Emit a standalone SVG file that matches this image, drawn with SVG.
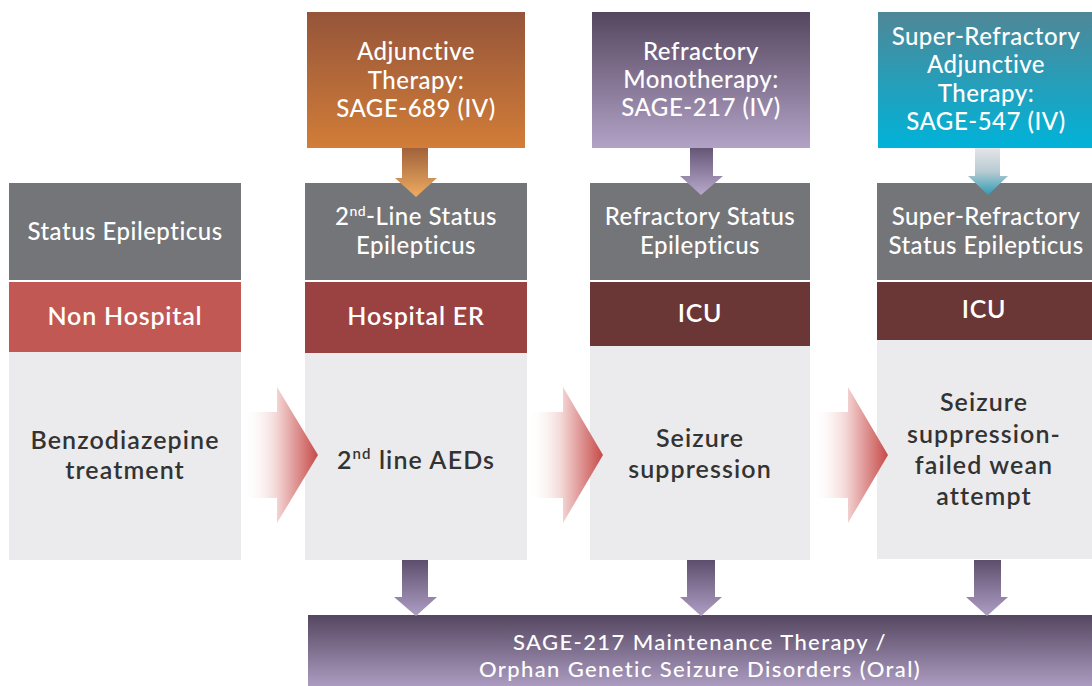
<svg xmlns="http://www.w3.org/2000/svg" width="1092" height="686" viewBox="0 0 1092 686">
<defs>
<linearGradient id="gOrange" x1="0" y1="0" x2="0" y2="1"><stop offset="0" stop-color="#95553a"/><stop offset="1" stop-color="#d27d38"/></linearGradient>
<linearGradient id="gPurple" x1="0" y1="0" x2="0" y2="1"><stop offset="0" stop-color="#55465f"/><stop offset="1" stop-color="#b2a2c6"/></linearGradient>
<linearGradient id="gTeal" x1="0" y1="0" x2="0" y2="1"><stop offset="0" stop-color="#4f8797"/><stop offset="1" stop-color="#00b3d9"/></linearGradient>
<linearGradient id="gBar" x1="0" y1="0" x2="0" y2="1"><stop offset="0" stop-color="#554660"/><stop offset="1" stop-color="#ab9bc0"/></linearGradient>
<linearGradient id="aOrange" x1="0" y1="0" x2="0" y2="1"><stop offset="0" stop-color="#a0623a"/><stop offset="1" stop-color="#eeab62"/></linearGradient>
<linearGradient id="aPurple" x1="0" y1="0" x2="0" y2="1"><stop offset="0" stop-color="#665676"/><stop offset="1" stop-color="#b8a8cc"/></linearGradient>
<linearGradient id="aTeal" x1="0" y1="0" x2="0" y2="1"><stop offset="0" stop-color="#e4e6e8"/><stop offset="0.5" stop-color="#b8cbd2"/><stop offset="1" stop-color="#2f9cb6"/></linearGradient>
<linearGradient id="aBottom" x1="0" y1="0" x2="0" y2="1"><stop offset="0" stop-color="#5e4e6d"/><stop offset="1" stop-color="#ae9ec4"/></linearGradient>
<linearGradient id="aRed" x1="0" y1="0" x2="1" y2="0"><stop offset="0" stop-color="#ffffff" stop-opacity="0"/><stop offset="0.45" stop-color="#f3d6d5"/><stop offset="1" stop-color="#c64a48"/></linearGradient>
<style>
.hdr{fill:#747578}
.body{fill:#ebebed}
.w{font-family:Lato,"Open Sans","Liberation Sans",sans-serif;font-size:24px;font-weight:500;letter-spacing:0.5px;fill:#ffffff;text-anchor:middle}
.wb{font-family:Lato,"Open Sans","Liberation Sans",sans-serif;font-size:25px;font-weight:600;letter-spacing:0.8px;fill:#ffffff;text-anchor:middle}
.d{font-family:Lato,"Open Sans","Liberation Sans",sans-serif;font-size:25px;font-weight:600;letter-spacing:1.1px;fill:#333333;text-anchor:middle}
.m{font-family:Lato,"Open Sans","Liberation Sans",sans-serif;font-size:22px;font-weight:500;letter-spacing:1.4px;fill:#ffffff;text-anchor:middle}
</style>
</defs>
<rect width="1092" height="686" fill="#ffffff"/>

<g id="therapy-689">
<rect x="307" y="12" width="218" height="136" fill="url(#gOrange)"/>
<text class="w" x="416" y="60">Adjunctive</text>
<text class="w" x="416" y="89">Therapy:</text>
<text class="w" x="416" y="117">SAGE-689 (IV)</text>
</g>
<g id="therapy-217">
<rect x="592" y="12" width="218" height="136" fill="url(#gPurple)"/>
<text class="w" x="701" y="60">Refractory</text>
<text class="w" x="701" y="88">Monotherapy:</text>
<text class="w" x="701" y="116">SAGE-217 (IV)</text>
</g>
<g id="therapy-547">
<rect x="878" y="12" width="214" height="136" fill="url(#gTeal)"/>
<text class="w" x="986" y="45">Super-Refractory</text>
<text class="w" x="986" y="73">Adjunctive</text>
<text class="w" x="986" y="102">Therapy:</text>
<text class="w" x="986" y="130">SAGE-547 (IV)</text>
</g>

<g id="col-status">
<rect class="hdr" x="9" y="183" width="232" height="97"/>
<text class="w" x="125" y="240">Status Epilepticus</text>
<rect x="9" y="282" width="232" height="70" fill="#c25853"/>
<text class="wb" x="125" y="325">Non Hospital</text>
<rect class="body" x="9" y="352" width="232" height="208"/>
<text class="d" x="125" y="449">Benzodiazepine</text>
<text class="d" x="125" y="479">treatment</text>
</g>
<g id="col-2nd-line">
<rect class="hdr" x="305" y="183" width="222" height="97"/>
<text class="w" x="416" y="225">2<tspan font-size="14" dy="-9">nd</tspan><tspan dy="9">-Line Status</tspan></text>
<text class="w" x="416" y="254">Epilepticus</text>
<rect x="305" y="282" width="222" height="71" fill="#9a4241"/>
<text class="wb" x="416" y="325">Hospital ER</text>
<rect class="body" x="305" y="353" width="222" height="207"/>
<text class="d" x="416" y="469">2<tspan font-size="15" dy="-10">nd</tspan><tspan dy="10"> line AEDs</tspan></text>
</g>
<g id="col-refractory">
<rect class="hdr" x="590" y="183" width="220" height="97"/>
<text class="w" x="700" y="225">Refractory Status</text>
<text class="w" x="700" y="254">Epilepticus</text>
<rect x="590" y="282" width="220" height="64" fill="#6b3636"/>
<text class="wb" x="700" y="322">ICU</text>
<rect class="body" x="590" y="346" width="220" height="214"/>
<text class="d" x="700" y="447">Seizure</text>
<text class="d" x="700" y="478">suppression</text>
</g>
<g id="col-super-refractory">
<rect class="hdr" x="877" y="183" width="215" height="97"/>
<text class="w" x="986" y="225">Super-Refractory</text>
<text class="w" x="986" y="254">Status Epilepticus</text>
<rect x="877" y="282" width="215" height="58" fill="#6b3636"/>
<text class="wb" x="984" y="318">ICU</text>
<rect class="body" x="877" y="340" width="215" height="219"/>
<text class="d" x="984" y="411">Seizure</text>
<text class="d" x="984" y="443">suppression-</text>
<text class="d" x="984" y="474">failed wean</text>
<text class="d" x="984" y="505">attempt</text>
</g>

<g id="maintenance">
<rect x="308" y="615" width="784" height="71" fill="url(#gBar)"/>
<text class="m" x="700" y="650">SAGE-217 Maintenance Therapy /</text>
<text class="m" x="700" y="677">Orphan Genetic Seizure Disorders (Oral)</text>
</g>

<g id="connectors">
<path d="M402,148 H428 V178 H437 L416,197 L395,178 H402 Z" fill="url(#aOrange)"/>
<path d="M690,148 H713 V176 H723 L701,195 L680,176 H690 Z" fill="url(#aPurple)"/>
<path d="M975,148 H1000 V176 H1008 L988,195 L968,176 H975 Z" fill="url(#aTeal)"/>
<path d="M243,412 H277 V387 L318,455 L277,523 V498 H243 Z" fill="url(#aRed)"/>
<path d="M528,412 H563 V387 L603,455 L563,523 V498 H528 Z" fill="url(#aRed)"/>
<path d="M812,412 H848 V387 L888,455 L848,523 V498 H812 Z" fill="url(#aRed)"/>
<path d="M402,560 H428 V597 H437 L416,616 L394,597 H402 Z" fill="url(#aBottom)"/>
<path d="M687,560 H715 V597 H722 L701,616 L680,597 H687 Z" fill="url(#aBottom)"/>
<path d="M974,560 H1001 V597 H1008 L987,616 L966,597 H974 Z" fill="url(#aBottom)"/>
</g>
</svg>
